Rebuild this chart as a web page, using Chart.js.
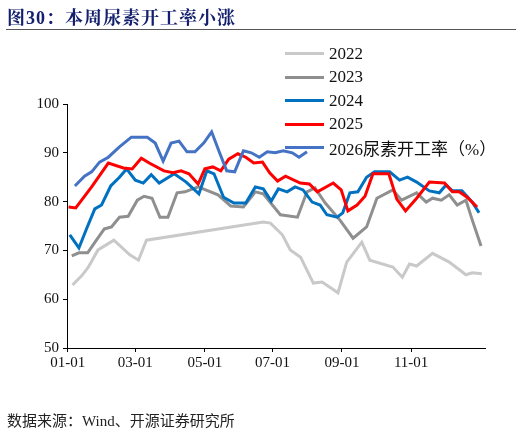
<!DOCTYPE html>
<html><head><meta charset="utf-8">
<script src="https://cdn.jsdelivr.net/npm/chart.js@4"></script>
<style>
body{margin:0;width:522px;height:436px;background:#fff;position:relative;overflow:hidden;font-family:"Liberation Serif","Noto Sans CJK SC",serif;}
#title{position:absolute;left:7px;top:3px;font-size:18px;font-weight:bold;color:#14206e;font-family:"Liberation Serif","Noto Serif CJK SC","Noto Sans CJK SC",serif;letter-spacing:1px}
#tline{position:absolute;left:6px;top:29px;width:510px;height:1px;background:#555}
#foot{position:absolute;left:7px;top:409px;font-size:15px;color:#222}
#legend{position:absolute;left:285px;top:42px}
.li{height:23.5px;display:flex;align-items:center;font-size:17px;color:#111}
.li span.sw{display:inline-block;width:39px;height:3px;margin-right:5px}
canvas{position:absolute;left:0;top:0}
</style></head><body>
<canvas id="c" width="522" height="436"></canvas>
<div id="title">图30：本周尿素开工率小涨</div><div id="tline"></div>
<div id="legend"></div>
<div id="foot">数据来源：Wind、开源证券研究所</div>
<script>
const seriesNames=["2022","2023","2024","2025","2026尿素开工率（%）"];
const colors=["#C9C9C9","#8F8F8F","#0070C0","#FF0000","#4472C4"];
const tickWeeks=[0,8.5,17.25,25.75,34.5,43.2];
const tickLabels=["01-01","03-01","05-01","07-01","09-01","11-01"];
const w2022=[0.6,1.8,2.6,3.8,5.8,7.8,8.9,9.9,24.6,25.5,27,28,29.3,30.9,32,34,35.1,37,38,40.9,42.1,43,43.9,45.9,48,50.1,50.9,52.1];
const v2022=[62.9,64.9,66.6,70.1,72.1,69.1,68.0,72.1,75.8,75.6,73.2,70.1,68.6,63.3,63.5,61.3,67.6,71.7,68.0,66.6,64.5,67.2,66.8,69.4,67.6,65.0,65.4,65.2];
const w2023=[0.5,1.4,2.5,3.6,4.6,5.5,6.5,7.6,8.75,9.6,10.6,11.6,12.6,13.75,14.75,16.4,18.9,20.5,22.1,23.6,24.6,26.75,28.9,30.1,31.1,32.4,34.25,35.9,37.6,38.9,40.9,42,43.9,45.1,45.9,47,48,49,50.1,50.9,52];
const v2023=[68.9,69.5,69.5,72.1,74.4,74.8,76.8,77.0,80.3,81.1,80.7,76.8,76.8,81.8,82.0,83.0,81.4,79.1,78.9,82.0,81.6,77.3,76.8,82.0,82.8,79.7,76.2,72.5,74.8,80.7,82.4,80.3,81.8,79.9,80.7,80.3,81.4,79.3,80.3,76.2,70.9];
const w2024=[0.25,1.4,2.4,3.4,4.25,5.4,6.5,7.4,8.5,9.5,10.5,11.5,13.4,14.9,16.5,17.5,18.4,19.6,20.9,22.4,23.6,24.6,25.6,26.5,27.6,28.6,29.6,30.75,31.75,32.6,33.9,34.6,35.5,36.5,37.6,38.6,40.5,41.75,42.75,43.9,45.5,46.75,47.6,48.4,49.6,50.9,51.75];
const v2024=[73.2,70.5,74.6,78.5,79.3,83.2,85.0,86.7,84.4,83.8,85.5,83.8,85.7,84.0,81.6,86.3,85.7,80.9,79.7,79.7,83.0,82.6,80.1,82.6,82.0,83.0,82.4,79.9,79.3,77.3,76.8,77.7,81.8,82.0,85.0,86.1,86.1,84.4,85.0,84.0,82.2,81.8,83.4,82.2,82.2,79.9,77.7];
const w2025=[0.1,1,3,5.1,7,8.1,9.25,10.25,12.1,13.25,14.25,15.25,16.4,17.25,18.25,19.25,20.25,21.4,22.4,23.4,24.5,25.4,26.4,27.4,29.25,30.4,31.4,33.4,34.4,35.25,36.4,37.4,38.4,40.4,41.4,42.5,43.9,45.5,47.4,48.4,49.25,50.25,51.5];
const v2025=[78.9,78.7,83.0,87.9,86.9,86.7,88.9,87.9,86.3,85.9,86.3,85.7,83.6,86.7,87.1,86.3,88.7,89.8,89.1,87.9,88.1,85.9,84.2,85.2,83.8,83.6,82.0,83.8,82.4,78.1,79.3,81.1,85.7,85.7,80.5,78.1,80.7,84.0,83.8,82.0,82.0,80.9,78.9];
const w2026=[0.9,2.1,3,4,5.1,6.5,8,10,11,12,13,14,15,16,17.1,18.1,19.1,20,21,22.1,23.1,24.1,25.1,26.1,27.1,28.25,29.1,30.1];
const v2026=[83.2,85.2,86.1,88.1,89.1,91.2,93.2,93.2,92.0,88.3,92.0,92.4,90.2,90.2,92.0,94.3,90.0,86.3,86.1,90.4,90.0,89.1,90.2,90.0,90.4,90.0,89.1,90.2];
const W=[w2022,w2023,w2024,w2025,w2026], V=[v2022,v2023,v2024,v2025,v2026];
const leg=document.getElementById('legend');
seriesNames.forEach((n,i)=>{leg.innerHTML+=`<div class="li"><span class="sw" style="background:${colors[i]}"></span>${n}</div>`;});
const datasets=seriesNames.map((n,i)=>({label:n,data:W[i].map((x,j)=>({x:x,y:V[i][j]})),borderColor:colors[i],borderWidth:3,pointRadius:0,tension:0,fill:false}));
Chart.defaults.font.family='"Liberation Serif",serif';
Chart.defaults.color='#111';
new Chart(document.getElementById('c'),{type:'line',data:{datasets:datasets.reverse()},
options:{responsive:false,animation:false,plugins:{legend:{display:false},tooltip:{enabled:false}},
layout:{padding:{top:104,right:37,left:0,bottom:0}},
scales:{
x:{type:'linear',min:-0.1,max:52.5,grid:{display:true,drawOnChartArea:false,tickLength:4,color:'#000'},border:{color:'#000'},
 afterBuildTicks:s=>{s.ticks=tickWeeks.map(v=>({value:v}));},
 ticks:{font:{size:15},padding:2,maxRotation:0,autoSkip:false,callback:(v,i)=>tickLabels[i]},
 afterFit:s=>{s.height=88;}},
y:{min:50,max:100,grid:{display:true,drawOnChartArea:false,tickLength:4,color:'#000'},border:{color:'#000'},
 ticks:{stepSize:10,font:{size:15},padding:4},
 afterFit:s=>{s.width=67;}}
}}});
</script></body></html>
